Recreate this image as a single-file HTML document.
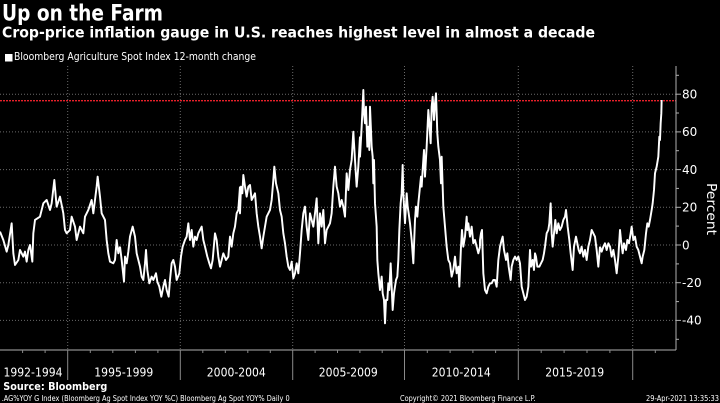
<!DOCTYPE html>
<html><head><meta charset="utf-8"><style>
html,body{margin:0;padding:0;background:#000;width:720px;height:403px;overflow:hidden}
svg{display:block}
text{font-family:"DejaVu Sans","Liberation Sans",sans-serif;fill:#fff}
</style></head><body>
<svg width="720" height="403" viewBox="0 0 720 403" xmlns="http://www.w3.org/2000/svg">
<rect width="720" height="403" fill="#000"/>
<text x="2" y="20.7" font-size="22" font-weight="bold" textLength="161" lengthAdjust="spacingAndGlyphs">Up on the Farm</text>
<text x="2" y="37.7" font-size="15" font-weight="bold" textLength="593" lengthAdjust="spacingAndGlyphs">Crop-price inflation gauge in U.S. reaches highest level in almost a decade</text>
<rect x="5" y="54" width="7.5" height="7.5" fill="#fff"/>
<text x="14" y="60" font-size="10.5" textLength="242" lengthAdjust="spacingAndGlyphs">Bloomberg Agriculture Spot Index 12-month change</text>

<g stroke="#6a6a6a" stroke-width="1" stroke-dasharray="1,2">
<line x1="0" y1="94.2" x2="676" y2="94.2"/>
<line x1="0" y1="131.9" x2="676" y2="131.9"/>
<line x1="0" y1="169.6" x2="676" y2="169.6"/>
<line x1="0" y1="207.3" x2="676" y2="207.3"/>
<line x1="0" y1="245" x2="676" y2="245"/>
<line x1="0" y1="282.7" x2="676" y2="282.7"/>
<line x1="0" y1="320.4" x2="676" y2="320.4"/>
<line x1="67.7" y1="66" x2="67.7" y2="350"/>
<line x1="180.3" y1="66" x2="180.3" y2="350"/>
<line x1="292.7" y1="66" x2="292.7" y2="350"/>
<line x1="404.5" y1="66" x2="404.5" y2="350"/>
<line x1="518.3" y1="66" x2="518.3" y2="350"/>
<line x1="632.7" y1="66" x2="632.7" y2="350"/>
</g>
<line x1="0" y1="100.7" x2="676" y2="100.7" stroke="#e8202a" stroke-width="1.4" stroke-dasharray="2,1"/>

<g fill="none" stroke="#fff" stroke-width="5.8" stroke-linejoin="round">
<polyline transform="translate(0,60) scale(0.3333)" points="0,515 10,540 20,575 25,555 35,490 40,580 45,615 55,600 60,570 70,590 75,575 80,605 85,570 90,555 97,605 100,520 105,480 120,470 130,430 140,420 150,450 155,430 163,360 170,440 180,410 190,460 195,510 200,520 210,510 215,470 225,500 230,540 240,500 250,520 255,470 265,450 275,420 280,460 285,420 290,380 293,350 300,410 305,460 315,480 320,540 325,580 330,605 340,610 345,600 350,540 355,580 360,560"/>
<polyline transform="translate(120,60) scale(0.3333)" points="0,560 5,600 12,665 15,590 20,610 25,575 30,530 38,500 45,530 50,580 60,620 65,650 70,660 75,610 78,570 82,630 88,670 95,650 100,660 108,640 112,665 118,680 124,710 130,680 135,660 140,690 146,710 150,660 155,610 160,600 165,620 170,660 178,640 183,590 188,560 195,540 200,530 205,490 210,540 215,510 220,560 225,530 230,540 235,520 245,500 250,540 255,560 262,590 268,610 273,625 278,600 285,520 290,540 295,590 300,620 305,600 310,580 318,600 325,590 330,530 335,560 340,520 345,500 350,460 355,450 360,380"/>
<polyline transform="translate(240,60) scale(0.3333)" points="0,380 0,460 3,380 7,400 10,345 15,380 20,410 25,380 30,375 35,420 40,410 45,400 50,460 55,500 60,530 65,565 70,530 75,500 80,470 85,460 90,450 95,420 100,360 103,320 108,370 115,400 120,450 125,470 130,520 135,550 140,590 145,620 150,630 155,605 160,655 165,640 170,610 175,640 180,580 185,510 190,460 195,440 200,500 205,540 210,460 215,480 220,500 225,460 230,415 235,550 240,460 245,500 250,450 255,550 260,510 265,500 270,490 275,460 280,380 285,320 290,380 295,400 300,440 305,420 310,440 315,470 320,340 325,390 330,330 335,300 340,215 345,300 350,380 355,320 360,230"/>
<polyline transform="translate(360,60) scale(0.3333)" points="0,230 0,290 5,200 10,90 12,160 15,190 18,140 22,260 25,200 28,270 30,140 35,260 38,290 40,370 42,300 45,430 50,500 52,600 55,640 60,690 65,650 68,700 72,720 75,790 78,720 82,720 85,670 88,690 92,610 95,680 98,750 102,700 105,680 108,660 112,650 115,600 118,510 122,430 125,400 128,315 130,400 135,490 140,400 143,440 146,460 150,490 155,540 160,610 165,480 168,440 172,470 175,430 180,380 183,350 185,380 188,330 192,270 195,350 200,260 205,150 208,190 212,250 215,140 218,110 222,180 225,130 228,100 232,220 235,260 240,300 243,370 245,290 248,380 250,440 255,500 260,560 265,600 270,610 275,650 280,630 285,590 290,640 295,620 298,680 303,560 306,510 310,560 315,530 320,470 322,510 325,490 330,530 335,500 340,550 345,540 350,560 355,580 360,560"/>
<polyline transform="translate(480,60) scale(0.3333)" points="0,560 0,540 3,520 6,510 10,640 15,690 20,700 25,680 30,670 35,670 40,660 45,660 50,680 55,600 60,560 65,540 68,530 72,570 78,600 82,580 86,620 92,660 95,620 100,600 105,590 110,600 115,590 120,610 125,680 130,700 135,720 140,710 145,680 150,570 153,620 158,600 162,630 165,580 168,590 172,620 178,620 183,610 188,600 192,580 195,560 200,520 205,510 208,490 212,430 215,520 218,560 222,520 226,480 230,520 235,490 240,510 245,500 250,480 255,470 258,450 263,500 268,540 272,580 278,630 282,560 288,530 292,550 296,570 300,580 305,560 310,590 315,570 320,600 325,560 330,540 335,510 340,520 345,530 350,570 355,620 360,560"/>
<polyline transform="translate(600,60) scale(0.3333)" points="0,560 5,575 10,560 15,550 20,570 25,550 30,560 35,590 40,570 45,600 50,640 55,590 60,510 63,540 68,580 72,550 78,570 82,540 87,550 92,520 95,500 100,540 105,530 110,560 115,570 120,590 125,610 128,590 133,570 138,520 142,490 146,500 150,480 155,450 158,430 162,390 165,340 170,320 175,290 178,230 180,240 182,190 184,160 185,120"/>
</g>

<g stroke="#b0b0b0" stroke-width="1">
<line x1="676" y1="66" x2="676" y2="350"/>
<line x1="0" y1="350" x2="676" y2="350"/>
<line x1="676" y1="94.2" x2="681" y2="94.2"/>
<line x1="676" y1="131.9" x2="681" y2="131.9"/>
<line x1="676" y1="169.6" x2="681" y2="169.6"/>
<line x1="676" y1="207.3" x2="681" y2="207.3"/>
<line x1="676" y1="245" x2="681" y2="245"/>
<line x1="676" y1="282.7" x2="681" y2="282.7"/>
<line x1="676" y1="320.4" x2="681" y2="320.4"/>
<line x1="676" y1="75.3" x2="679" y2="75.3"/>
<line x1="676" y1="113" x2="679" y2="113"/>
<line x1="676" y1="150.7" x2="679" y2="150.7"/>
<line x1="676" y1="188.4" x2="679" y2="188.4"/>
<line x1="676" y1="226.1" x2="679" y2="226.1"/>
<line x1="676" y1="263.9" x2="679" y2="263.9"/>
<line x1="676" y1="301.6" x2="679" y2="301.6"/>
<line x1="676" y1="339.3" x2="679" y2="339.3"/>
</g>
<g stroke="#8a8a8a" stroke-width="1">
<line x1="67.7" y1="350" x2="67.7" y2="380"/>
<line x1="180.3" y1="350" x2="180.3" y2="380"/>
<line x1="292.7" y1="350" x2="292.7" y2="380"/>
<line x1="404.5" y1="350" x2="404.5" y2="380"/>
<line x1="518.3" y1="350" x2="518.3" y2="380"/>
<line x1="632.7" y1="350" x2="632.7" y2="380"/>
<line x1="22.6" y1="350" x2="22.6" y2="353"/>
<line x1="45.1" y1="350" x2="45.1" y2="353"/>
<line x1="90.3" y1="350" x2="90.3" y2="353"/>
<line x1="112.8" y1="350" x2="112.8" y2="353"/>
<line x1="135.4" y1="350" x2="135.4" y2="353"/>
<line x1="157.9" y1="350" x2="157.9" y2="353"/>
<line x1="202.8" y1="350" x2="202.8" y2="353"/>
<line x1="225.3" y1="350" x2="225.3" y2="353"/>
<line x1="247.8" y1="350" x2="247.8" y2="353"/>
<line x1="270.3" y1="350" x2="270.3" y2="353"/>
<line x1="315.1" y1="350" x2="315.1" y2="353"/>
<line x1="337.5" y1="350" x2="337.5" y2="353"/>
<line x1="359.9" y1="350" x2="359.9" y2="353"/>
<line x1="382.2" y1="350" x2="382.2" y2="353"/>
<line x1="427.3" y1="350" x2="427.3" y2="353"/>
<line x1="450.1" y1="350" x2="450.1" y2="353"/>
<line x1="472.9" y1="350" x2="472.9" y2="353"/>
<line x1="495.6" y1="350" x2="495.6" y2="353"/>
<line x1="541.2" y1="350" x2="541.2" y2="353"/>
<line x1="564.1" y1="350" x2="564.1" y2="353"/>
<line x1="587" y1="350" x2="587" y2="353"/>
<line x1="609.9" y1="350" x2="609.9" y2="353"/>
<line x1="655.3" y1="350" x2="655.3" y2="353"/>
</g>

<g font-size="12">
<text x="682" y="98.5">80</text>
<text x="682" y="136.2">60</text>
<text x="682" y="173.9">40</text>
<text x="682" y="211.6">20</text>
<text x="682" y="249.3">0</text>
<text x="682" y="287">-20</text>
<text x="682" y="324.7">-40</text>
</g>
<text transform="translate(707,183) rotate(90)" font-size="13" textLength="52" lengthAdjust="spacingAndGlyphs">Percent</text>

<g font-size="12" text-anchor="middle">
<text x="33" y="376.7" textLength="59" lengthAdjust="spacingAndGlyphs">1992-1994</text>
<text x="123.8" y="376.7" textLength="59" lengthAdjust="spacingAndGlyphs">1995-1999</text>
<text x="236.3" y="376.7" textLength="59" lengthAdjust="spacingAndGlyphs">2000-2004</text>
<text x="348.3" y="376.7" textLength="59" lengthAdjust="spacingAndGlyphs">2005-2009</text>
<text x="461.3" y="376.7" textLength="59" lengthAdjust="spacingAndGlyphs">2010-2014</text>
<text x="574.7" y="376.7" textLength="59" lengthAdjust="spacingAndGlyphs">2015-2019</text>
</g>
<text x="3.3" y="390" font-size="10.5" font-weight="bold" textLength="104" lengthAdjust="spacingAndGlyphs">Source: Bloomberg</text>
<text x="1.7" y="401" font-size="7.5" textLength="288" lengthAdjust="spacingAndGlyphs">.AG%YOY G Index (Bloomberg Ag Spot Index YOY %C) Bloomberg Ag Spot YOY%  Daily 0</text>
<text x="400" y="401" font-size="7.5" textLength="135.7" lengthAdjust="spacingAndGlyphs">Copyright© 2021 Bloomberg Finance L.P.</text>
<text x="646" y="401" font-size="7.5" textLength="73" lengthAdjust="spacingAndGlyphs">29-Apr-2021 13:35:33</text>
</svg>
</body></html>
